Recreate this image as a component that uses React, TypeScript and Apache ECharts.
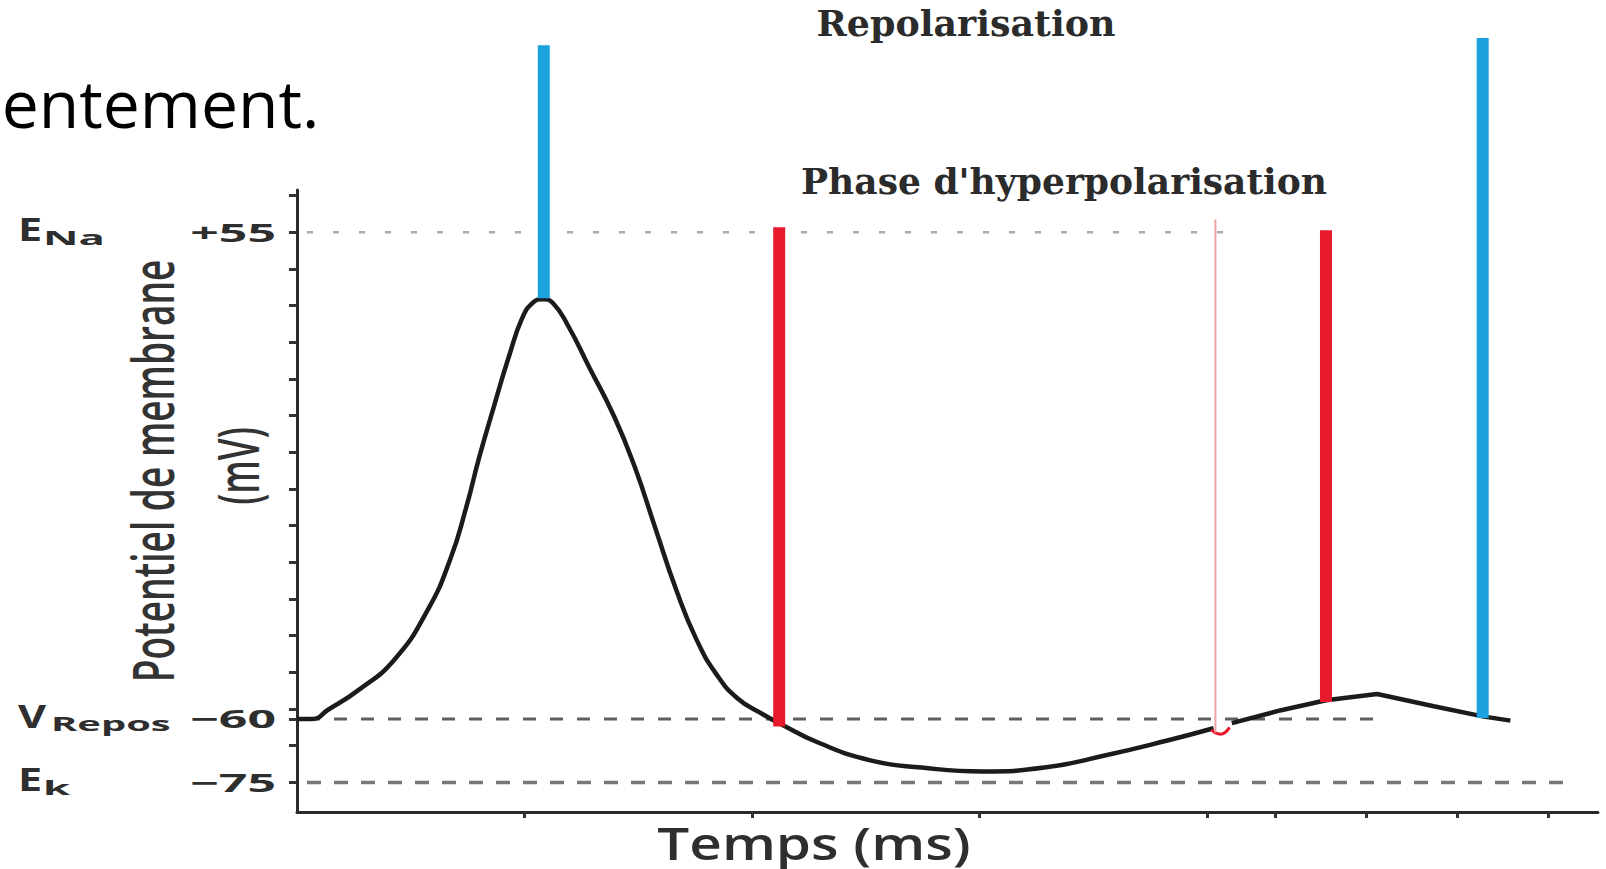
import React, { useEffect, useRef } from "react";
import * as echarts from "echarts";

// ---- data (time in ms, potential in mV) ----
const spikeTime = [0, 0.068, 0.135, 0.27, 0.428, 0.576, 0.675, 0.743, 0.801, 0.865, 0.932, 0.99, 1.036, 1.08, 1.125, 1.193, 1.283, 1.396, 1.486, 1.576, 1.666, 1.756, 1.846, 1.936, 2.048, 2.12, 2.296, 2.521, 2.746, 3.016, 3.286, 3.556, 3.827, 4.03];
const spikeMv = [-60, -60, -57.9, -53.2, -46, -34.1, -22.1, -10.2, 1.8, 13.7, 25.7, 34.7, 38.3, 39.2, 38.3, 32.8, 23.3, 11.3, -0.6, -15, -29.3, -41.2, -49.6, -55.1, -58.9, -61, -65.7, -69.8, -71.5, -72.4, -71.5, -68.6, -65.1, -62.2];

const recoveryTime = [4.11, 4.322, 4.524, 4.749, 4.998, 5.213, 5.335];
const recoveryMv = [-61, -58, -55.6, -54.1, -57, -59.4, -60.4];

const notchTime = [4.02, 4.06, 4.1];
const notchMv = [-62.6, -63.6, -62];

const barTime = [1.085, 2.12, 4.524, 5.213];
const barTopMv = [99.2, 56.2, 55.5, 100.9];
const barBottomMv = [39.4, -61.8, -56, -59.8];

const thinLineTime = 4.038;
const thinLineTopMv = 58;
const thinLineBottomMv = -63.2;

const refLevelMv = [55, -60, -75];
const refStartTime = [0.044, 0.044, 0.044];
const refEndTime = [4.14, 4.75, 5.6];

const yTickValues = [63.7, 55, 46.3, 37.7, 29, 20.3, 11.7, 3, -5.7, -14.3, -23, -31.7, -40.3, -49, -57.7, -60, -66.3, -75];
const xTickValues = [1, 2, 3, 4, 4.3, 4.7, 5.1, 5.5];

const yLabelValues = [55, -60, -75];
const yLabelTexts = ["+55", "\u221260", "\u221275"];
const yLabelSymbol = ["E", "V", "E"];
const yLabelSub = ["Na", "Repos", "k"];

// ---- styles ----
const barColors = ["#1ba1dd", "#e8192c", "#e8192c", "#1ba1dd"];
const refStyles = [
  { color: "#ababab", width: 2.5, type: [6, 20] },
  { color: "#606060", width: 3, type: [13, 14] },
  { color: "#777777", width: 3.5, type: [14, 13] },
];

export default function App() {
  const ref = useRef<HTMLDivElement | null>(null);

  useEffect(() => {
    document.body.style.margin = "0";
    if (!ref.current) return;
    const chart = echarts.init(ref.current, null, { renderer: "svg" });

    const series: any[] = [];
    refLevelMv.forEach((lv, i) => {
      series.push({
        type: "line",
        silent: true,
        symbol: "none",
        data: [
          [refStartTime[i], lv],
          [refEndTime[i], lv],
        ],
        lineStyle: refStyles[i],
        z: 1,
      });
    });
    series.push({
      type: "line",
      symbol: "none",
      smooth: 0.5,
      data: spikeTime.map((t, i) => [t, spikeMv[i]]),
      lineStyle: { color: "#1b1b1b", width: 4.5 },
      z: 3,
    });
    series.push({
      type: "line",
      symbol: "none",
      data: recoveryTime.map((t, i) => [t, recoveryMv[i]]),
      lineStyle: { color: "#1b1b1b", width: 4.5 },
      z: 3,
    });
    series.push({
      type: "line",
      symbol: "none",
      smooth: true,
      data: notchTime.map((t, i) => [t, notchMv[i]]),
      lineStyle: { color: "#e8192c", width: 3 },
      z: 4,
    });
    series.push({
      type: "line",
      symbol: "none",
      clip: false,
      data: [
        [thinLineTime, thinLineTopMv],
        [thinLineTime, thinLineBottomMv],
      ],
      lineStyle: { color: "#f1a3a3", width: 2 },
      z: 4,
    });
    barTime.forEach((t, i) => {
      series.push({
        type: "line",
        symbol: "none",
        clip: false,
        data: [
          [t, barTopMv[i]],
          [t, barBottomMv[i]],
        ],
        lineStyle: { color: barColors[i], width: 12, cap: "butt" },
        z: 5,
      });
    });

    const option: any = {
      animation: false,
      backgroundColor: "#ffffff",
      grid: { left: 297, top: 190, width: 1301, height: 622, outerBoundsMode: "none" },
      xAxis: {
        type: "value",
        min: 0,
        max: 5.72,
        axisLine: { show: true, onZero: false, lineStyle: { color: "#2a2a2a", width: 3 } },
        axisTick: { show: true, customValues: xTickValues, length: 6, lineStyle: { color: "#333", width: 3 } },
        axisLabel: { show: false },
        splitLine: { show: false },
      },
      yAxis: {
        type: "value",
        min: -82,
        max: 65,
        axisLine: { show: true, onZero: false, lineStyle: { color: "#2a2a2a", width: 3 } },
        axisTick: { show: true, customValues: yTickValues, length: 8, lineStyle: { color: "#333", width: 3 } },
        axisLabel: { show: false },
        splitLine: { show: false },
      },
      series,
    };
    chart.setOption(option);

    const labelGraphics: any[] = [];
    yLabelValues.forEach((v, i) => {
      const y = chart.convertToPixel({ yAxisIndex: 0 }, v) as number;
      labelGraphics.push({
        type: "text",
        x: 276,
        y: y,
        scaleX: 2.0,
        style: {
          text: yLabelTexts[i],
          fontFamily: "Open Sans",
          fontWeight: "bold",
          fontSize: 25,
          fill: "#2e2e2e",
          align: "right",
          verticalAlign: "middle",
        },
      });
      labelGraphics.push({
        type: "text",
        x: 18,
        y: y - 4,
        scaleX: 1.35,
        style: {
          text: yLabelSymbol[i],
          fontFamily: "Open Sans",
          fontWeight: "bold",
          fontSize: 32,
          fill: "#2e2e2e",
          align: "left",
          verticalAlign: "middle",
        },
      });
      labelGraphics.push({
        type: "text",
        x: i === 1 ? 51 : 43,
        y: y + 5,
        scaleX: i === 1 ? 2.1 : 2.3,
        style: {
          text: yLabelSub[i],
          fontFamily: "Open Sans",
          fontWeight: "bold",
          fontSize: 19,
          fill: "#2e2e2e",
          align: "left",
          verticalAlign: "middle",
        },
      });
    });

    chart.setOption({
      graphic: [
        ...labelGraphics,
        {
          type: "text",
          x: -15,
          y: 102,
          style: {
            text: "lentement.",
            fontFamily: "Open Sans",
            fontSize: 66,
            fill: "#000",
            align: "left",
            verticalAlign: "middle",
          },
        },
        {
          type: "text",
          x: 966,
          y: 23,
          scaleX: 1.04,
          style: {
            text: "Repolarisation",
            fontFamily: "DejaVu Serif",
            fontWeight: "bold",
            fontSize: 35,
            fill: "#2b2b2b",
            align: "center",
            verticalAlign: "middle",
          },
        },
        {
          type: "text",
          x: 1064,
          y: 182,
          scaleX: 1.03,
          style: {
            text: "Phase d'hyperpolarisation",
            fontFamily: "DejaVu Serif",
            fontWeight: "bold",
            fontSize: 35,
            fill: "#2b2b2b",
            align: "center",
            verticalAlign: "middle",
          },
        },
        {
          type: "text",
          x: 151,
          y: 471,
          rotation: Math.PI / 2,
          scaleX: 0.95,
          scaleY: 1.5,
          style: {
            text: "Potentiel de membrane",
            fontFamily: "Open Sans",
            fontWeight: 600,
            fontSize: 39,
            fill: "#333",
            align: "center",
            verticalAlign: "middle",
          },
        },
        {
          type: "text",
          x: 236,
          y: 466,
          rotation: Math.PI / 2,
          scaleX: 0.9,
          scaleY: 1.5,
          style: {
            text: "(mV)",
            fontFamily: "Open Sans",
            fontWeight: 600,
            fontSize: 39,
            fill: "#333",
            align: "center",
            verticalAlign: "middle",
          },
        },
        {
          type: "text",
          x: 814,
          y: 842,
          scaleX: 1.23,
          style: {
            text: "Temps (ms)",
            fontFamily: "Open Sans",
            fontWeight: 600,
            fontSize: 46,
            fill: "#2e2e2e",
            align: "center",
            verticalAlign: "middle",
          },
        },
      ],
    });

    return () => chart.dispose();
  }, []);

  return (
    <div
      ref={ref}
      style={{ position: "absolute", left: 0, top: 0, width: 1606, height: 869, background: "#fff" }}
    />
  );
}
